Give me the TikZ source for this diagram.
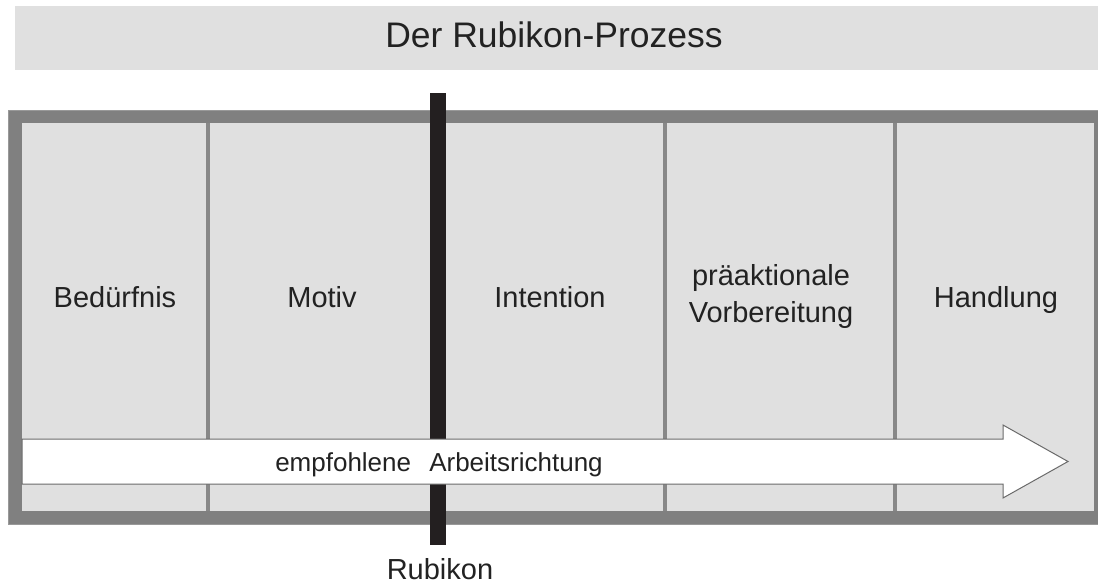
\documentclass[tikz,border=0pt]{standalone}
\usepackage{fontspec}
\setmainfont{Liberation Sans}
\usetikzlibrary{positioning,calc}
\definecolor{panel}{HTML}{E0E0E0}
\definecolor{frame}{HTML}{808080}
\definecolor{divider}{HTML}{888888}
\definecolor{rubicon}{HTML}{231F20}
\definecolor{arrowline}{HTML}{6A6A6A}
\definecolor{ink}{HTML}{222222}

\begin{document}
\begin{tikzpicture}[x=1pt,y=-1pt,
    phase/.style={font=\fontsize{29}{37}\selectfont, align=center, text=ink, inner sep=0pt},
    heading/.style={font=\fontsize{35.5}{40}\selectfont, text=ink, inner sep=0pt},
    arrowtext/.style={font=\fontsize{26}{30}\selectfont, text=ink, inner sep=0pt}]
    \useasboundingbox (0,0) rectangle (1098,585);

    % title bar
    \fill[panel] (15,6) rectangle (1098,70);
    \node[heading, anchor=base] (title) at (554,48) {Der Rubikon-Prozess};

    % outer frame and panel
    \filldraw[fill=frame, draw=frame!80, line width=0.8pt] (8,110) rectangle (1098,524);
    \fill[panel] (22,123) rectangle (1094,511);

    % phase dividers
    \foreach \x in {208,436,665,895}
      \draw[divider, line width=3.2pt] (\x,123) -- (\x,511);

    % phases
    \node[phase, anchor=base] (need)   at (115,308) {Bedürfnis};
    \node[phase, anchor=base] (motive) at (322,308) {Motiv};
    \node[phase, anchor=base] (intent) at (550,308) {Intention};
    \node[phase]              (prep)   at (771,297) {präaktionale\\Vorbereitung};
    \node[phase, anchor=base] (act)    at (996,308) {Handlung};

    % the Rubikon
    \fill[rubicon] (430,92.7) rectangle (446,545);
    \node[phase, anchor=base] (rubikon) at (440,579) {Rubikon};

    % working direction
    \filldraw[fill=white, draw=arrowline, line width=1pt]
      (22,439) -- (1003,439) -- (1003,425) -- (1068,461.5)
      -- (1003,498) -- (1003,484) -- (22,484) -- cycle;
    \node[arrowtext, anchor=base] (direction) at (439,471) {empfohlene\hspace{0.7em}Arbeitsrichtung};
\end{tikzpicture}
\end{document}
